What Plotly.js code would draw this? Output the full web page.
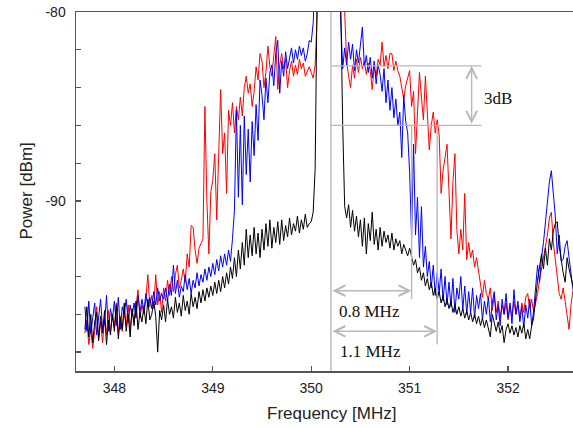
<!DOCTYPE html>
<html><head><meta charset="utf-8">
<script src="https://cdn.plot.ly/plotly-3.0.1.min.js"></script>
<style>html,body{margin:0;padding:0;background:#fff;overflow:hidden}</style>
</head><body><div id="chart" style="width:573px;height:428px"></div>
<script>
// Frequency grid (MHz): start and step of the sampled spectra
const freqStart = 347.70;
const freqStep = 0.02;

// Power [dBm], red trace
const powerRed = [
-97.0,-96.3,-97.6,-96.8,-97.8,
-96.9,-95.6,-97.3,-96.4,-97.5,
-96.2,-97.1,-95.8,-96.9,-96.0,
-96.7,-95.4,-97.0,-96.1,-96.9,
-95.9,-96.6,-95.5,-96.8,-95.8,
-96.4,-95.6,-94.7,-96.2,-95.5,
-96.0,-95.2,-93.9,-95.6,-95.0,
-95.7,-93.9,-95.5,-94.8,-95.9,
-94.6,-95.3,-94.2,-95.0,-94.0,
-94.8,-93.9,-93.4,-94.6,-94.2,
-93.6,-94.3,-92.8,-93.5,-91.3,
-91.4,-92.6,-93.3,-92.5,-92.2,
-92.0,-85.0,-90.0,-92.8,-89.5,
-88.9,-87.5,-91.0,-88.0,-84.1,
-87.5,-86.4,-89.6,-85.2,-86.0,
-84.8,-86.4,-85.0,-85.7,-84.5,
-85.5,-84.0,-83.4,-84.3,-83.8,
-85.0,-84.2,-82.9,-83.6,-82.2,
-82.6,-84.0,-83.2,-81.8,-82.9,
-83.4,-82.3,-81.3,-84.1,-82.8,
-82.2,-83.0,-82.5,-84.0,-83.1,
-82.6,-83.4,-82.8,-83.3,-82.5,
-83.0,-82.7,-83.4,-83.1,-82.9,
-83.2,-83.5,-82.8,-79.5,-75.0,
-75.0,-75.0,-75.0,-75.0,-75.0,
-75.0,-75.0,-75.0,-75.0,-75.0,
-75.0,-75.0,-80.0,-82.6,-83.4,
-84.0,-82.8,-83.5,-82.5,-83.2,
-82.4,-83.0,-82.6,-83.3,-82.7,
-83.1,-84.1,-82.9,-83.4,-82.5,
-82.8,-81.6,-82.9,-82.3,-83.0,
-82.2,-82.2,-83.1,-82.6,-83.1,
-83.4,-84.1,-84.6,-83.9,-83.5,
-83.1,-85.0,-84.2,-87.5,-85.6,
-83.2,-84.5,-85.7,-83.4,-85.2,
-87.3,-86.0,-85.3,-86.4,-85.7,
-86.5,-89.6,-88.4,-87.8,-87.0,
-89.5,-92.0,-89.0,-87.5,-91.5,
-92.8,-91.5,-92.6,-89.6,-93.1,
-92.2,-93.0,-92.6,-93.5,-93.0,
-93.8,-94.4,-95.1,-94.2,-94.9,
-95.2,-94.6,-95.8,-95.0,-95.9,
-95.3,-96.2,-95.5,-96.0,-95.4,
-96.3,-95.6,-96.1,-95.3,-96.0,
-95.5,-96.2,-95.4,-95.9,-95.1,
-94.9,-95.7,-95.2,-95.9,-95.4,
-94.9,-94.2,-93.6,-93.0,-92.6,
-91.8,-90.9,-90.6,-92.2,-93.1,
-94.0,-94.9,-95.2,-94.6,-95.3,
-96.0,-96.8,-95.5,-94.7
];

// Power [dBm], blue trace
const powerBlue = [
-95.6,-96.9,-95.3,-97.0,-96.2,
-95.4,-97.1,-96.0,-95.2,-96.8,
-96.5,-95.0,-96.9,-95.7,-96.3,
-95.3,-96.6,-95.1,-96.8,-95.6,
-96.0,-95.2,-96.4,-95.5,-96.1,
-95.4,-96.2,-95.0,-95.9,-95.2,
-95.8,-94.9,-95.6,-95.1,-95.7,
-94.8,-95.5,-94.6,-95.3,-94.9,
-95.2,-94.6,-95.3,-94.4,-95.0,
-93.4,-94.9,-94.2,-95.1,-94.5,
-94.8,-93.9,-94.7,-94.1,-94.9,
-94.2,-94.6,-93.8,-94.5,-93.9,
-94.3,-93.6,-94.2,-93.5,-94.0,
-93.3,-93.9,-93.1,-93.7,-92.9,
-93.5,-92.8,-93.4,-92.6,-93.2,
-92.0,-90.5,-85.2,-89.8,-86.0,
-90.2,-85.5,-88.6,-86.2,-89.0,
-85.8,-87.6,-84.9,-86.8,-83.6,
-84.4,-85.7,-83.5,-84.8,-83.2,
-82.8,-83.9,-82.2,-81.5,-84.3,
-82.6,-83.4,-82.1,-83.0,-82.4,
-81.9,-82.7,-82.0,-82.5,-81.8,
-82.3,-81.9,-82.6,-82.2,-81.5,
-81.6,-80.6,-75.0,-75.0,-75.0,
-75.0,-75.0,-75.0,-75.0,-75.0,
-75.0,-75.0,-75.0,-75.0,-76.0,
-80.4,-83.0,-81.9,-82.8,-81.6,
-82.5,-81.7,-83.1,-82.0,-82.7,
-81.8,-80.8,-82.9,-82.3,-83.2,
-82.4,-83.5,-82.6,-83.8,-82.8,
-83.3,-84.2,-83.0,-84.8,-83.6,
-85.2,-84.0,-85.6,-84.6,-86.0,
-85.3,-87.7,-84.4,-85.8,-86.4,
-88.5,-92.0,-87.0,-91.8,-89.8,
-93.0,-90.3,-93.5,-92.4,-94.0,
-93.2,-94.6,-93.4,-95.0,-93.8,
-94.9,-93.6,-95.3,-94.0,-95.5,
-94.3,-95.6,-94.1,-95.9,-94.6,
-95.2,-94.0,-95.8,-94.5,-96.0,
-94.8,-95.9,-94.6,-96.2,-95.0,
-95.7,-94.9,-96.3,-95.3,-96.0,
-95.1,-96.4,-95.4,-94.8,-96.3,
-95.5,-96.6,-95.2,-96.0,-94.9,
-96.2,-95.4,-96.5,-94.7,-96.0,
-95.3,-96.4,-95.6,-96.7,-95.5,
-96.2,-95.2,-96.6,-95.8,-94.6,
-93.4,-94.3,-93.0,-92.2,-91.0,
-90.0,-89.0,-88.4,-89.6,-90.8,
-92.8,-91.8,-93.2,-93.1,-92.4,
-92.1,-93.0,-94.0,-94.7
];

// Power [dBm], black trace
const powerBlack = [
-96.8,-95.6,-97.2,-96.0,-97.5,
-96.4,-95.9,-97.4,-96.1,-97.0,
-95.8,-97.6,-96.3,-97.1,-96.0,
-96.9,-95.5,-97.3,-96.2,-96.8,
-95.4,-96.9,-96.0,-97.2,-95.7,
-96.6,-95.3,-96.8,-95.9,-96.4,
-95.6,-96.5,-95.2,-96.3,-96.0,
-95.3,-96.1,-98.0,-95.8,-96.3,
-95.5,-96.4,-95.2,-96.0,-95.6,
-96.2,-95.1,-95.9,-95.4,-96.1,
-95.0,-95.8,-95.3,-96.0,-94.9,
-95.6,-95.1,-95.7,-94.8,-95.4,
-94.7,-95.3,-94.6,-95.1,-94.5,
-95.0,-94.3,-94.9,-94.2,-94.8,
-94.0,-94.6,-93.8,-94.4,-93.5,
-94.1,-93.0,-94.0,-92.6,-93.6,
-92.2,-93.4,-91.5,-93.0,-91.8,
-92.9,-91.4,-92.8,-91.7,-93.0,
-91.5,-92.6,-91.2,-92.4,-91.0,
-92.5,-91.4,-92.2,-91.1,-92.3,
-91.0,-92.1,-91.3,-91.9,-90.9,
-91.8,-91.2,-91.6,-90.8,-91.7,
-91.0,-91.5,-90.7,-91.4,-91.2,
-91.1,-90.6,-88.3,-79.0,-75.0,
-75.0,-75.0,-75.0,-75.0,-75.0,
-75.0,-75.0,-75.0,-75.0,-76.0,
-79.6,-86.0,-90.3,-90.9,-90.2,
-91.4,-90.5,-91.6,-90.8,-91.9,
-91.0,-92.4,-90.9,-92.8,-91.2,
-92.1,-90.6,-92.3,-91.5,-92.6,
-91.4,-92.4,-91.6,-92.2,-91.8,
-92.5,-91.7,-92.6,-92.0,-92.4,
-92.1,-92.8,-92.3,-92.6,-92.9,
-92.5,-93.0,-93.4,-93.1,-93.8,
-93.5,-94.2,-93.8,-94.5,-94.1,
-94.7,-94.3,-95.0,-94.6,-95.2,
-94.8,-95.4,-95.0,-95.6,-95.2,
-95.7,-95.3,-95.9,-95.5,-96.0,
-95.6,-96.1,-95.7,-96.2,-95.8,
-96.3,-95.9,-96.4,-96.0,-96.5,
-96.1,-96.6,-96.2,-96.7,-96.3,
-96.8,-97.2,-96.0,-96.5,-96.9,
-96.4,-97.0,-96.6,-97.5,-96.8,
-96.5,-97.0,-96.6,-97.1,-96.7,
-97.2,-96.6,-97.0,-96.5,-97.3,
-96.8,-97.3,-96.6,-96.2,-95.0,
-94.2,-93.5,-92.8,-93.6,-92.5,
-93.4,-92.0,-92.6,-91.6,-91.2,
-91.1,-92.4,-93.2,-93.8,-94.3,
-93.0,-93.6,-94.0,-94.5
];

// Axis ticks
const xTickVals = [348, 349, 350, 351, 352];
const xTickText = ['348', '349', '350', '351', '352'];
const yTickVals = [-80, -90];
const yTickText = ['-80', '-90'];

const carrierRef = 350.2;
const edge08 = 351.02;
const edge11 = 351.28;
const level1 = -82.85;
const level2 = -86.0;
const levelEnd = 351.73;
const arrow3dBX = 351.63;
const arrow08Y = -94.75;
const arrow11Y = -96.9;
const edge08Bottom = -95.2;
const edge11Bottom = -97.6;
const labels = {db: '3dB', w08: '0.8 MHz', w11: '1.1 MHz'};

const freq = powerRed.map((_, i) => +(freqStart + i * freqStep).toFixed(2));

const mk = (y, color) => ({
  x: freq, y: y, type: 'scatter', mode: 'lines',
  line: {color: color, width: 1.0}, hoverinfo: 'skip', showlegend: false
});

const gray = '#b9b9b9';
const serif = {family: 'Liberation Serif, Times New Roman, serif', size: 17, color: '#111'};

const data = [mk(powerRed, '#ff0000'), mk(powerBlue, '#0000ff'), mk(powerBlack, '#000000')];

const lineShape = (x0, y0, x1, y1) => ({type: 'line', xref: 'x', yref: 'y', x0, y0, x1, y1,
  line: {color: gray, width: 1.4}, layer: 'above'});

const arrow = (x, y, ax, ay) => ({x, y, ax, ay, xref: 'x', yref: 'y', axref: 'x', ayref: 'y',
  text: '', showarrow: true, arrowhead: 5, startarrowhead: 5, arrowside: 'end+start',
  arrowsize: 1.5, startarrowsize: 1.5, arrowwidth: 1.4, arrowcolor: gray, standoff: 0, startstandoff: 0});

const layout = {
  width: 573, height: 428,
  margin: {l: 76, r: 0, t: 12, b: 57},
  paper_bgcolor: '#fff', plot_bgcolor: '#fff',
  font: {family: 'Liberation Sans, Arial, sans-serif', size: 14, color: '#222'},
  xaxis: {
    range: [347.61, 352.66], tickmode: 'array', tickvals: xTickVals, ticktext: xTickText,
    ticks: 'inside', ticklen: 5, tickwidth: 1.3, tickcolor: '#555',
    showline: true, linecolor: '#555', linewidth: 1.5, mirror: true,
    showgrid: false, zeroline: false, ticklabelstandoff: 4,
    tickfont: {size: 14, color: '#222'}
  },
  yaxis: {
    range: [-99, -80], tickmode: 'array', tickvals: yTickVals, ticktext: yTickText,
    ticks: 'inside', ticklen: 5, tickwidth: 1.3, tickcolor: '#555',
    minor: {tickmode: 'linear', tick0: -80, dtick: 2, ticks: 'inside', ticklen: 5, tickwidth: 1.3, tickcolor: '#555', showgrid: false},
    showline: true, linecolor: '#555', linewidth: 1.5, mirror: false,
    showgrid: false, zeroline: false, ticklabelstandoff: 6,
    tickfont: {size: 14, color: '#222'}
  },
  shapes: [
    lineShape(carrierRef, -99, carrierRef, -80),
    lineShape(carrierRef, level1, levelEnd, level1),
    lineShape(carrierRef, level2, levelEnd, level2),
    lineShape(edge08, level2, edge08, edge08Bottom),
    lineShape(edge11, level2, edge11, edge11Bottom)
  ],
  annotations: [
    arrow(arrow3dBX, level1, arrow3dBX, level2),
    arrow(edge08, arrow08Y, carrierRef, arrow08Y),
    arrow(edge11, arrow11Y, carrierRef, arrow11Y),
    {x: 351.74, y: -84.6, xref: 'x', yref: 'y', text: labels.db, showarrow: false, xanchor: 'left', yanchor: 'middle', font: serif},
    {x: 350.26, y: -95.86, xref: 'x', yref: 'y', text: labels.w08, showarrow: false, xanchor: 'left', yanchor: 'middle', font: serif},
    {x: 350.27, y: -97.97, xref: 'x', yref: 'y', text: labels.w11, showarrow: false, xanchor: 'left', yanchor: 'middle', font: serif},
    {x: -0.1006, y: 0.5, xref: 'paper', yref: 'paper', text: 'Power [dBm]', textangle: -90, showarrow: false,
      xanchor: 'center', yanchor: 'middle', font: {size: 17, color: '#222'}},
    {x: 0.515, y: -0.117, xref: 'paper', yref: 'paper', text: 'Frequency [MHz]', showarrow: false,
      xanchor: 'center', yanchor: 'middle', font: {size: 17, color: '#222'}}
  ],
  showlegend: false
};

Plotly.newPlot('chart', data, layout, {displayModeBar: false, staticPlot: true});
</script>
</body></html>
